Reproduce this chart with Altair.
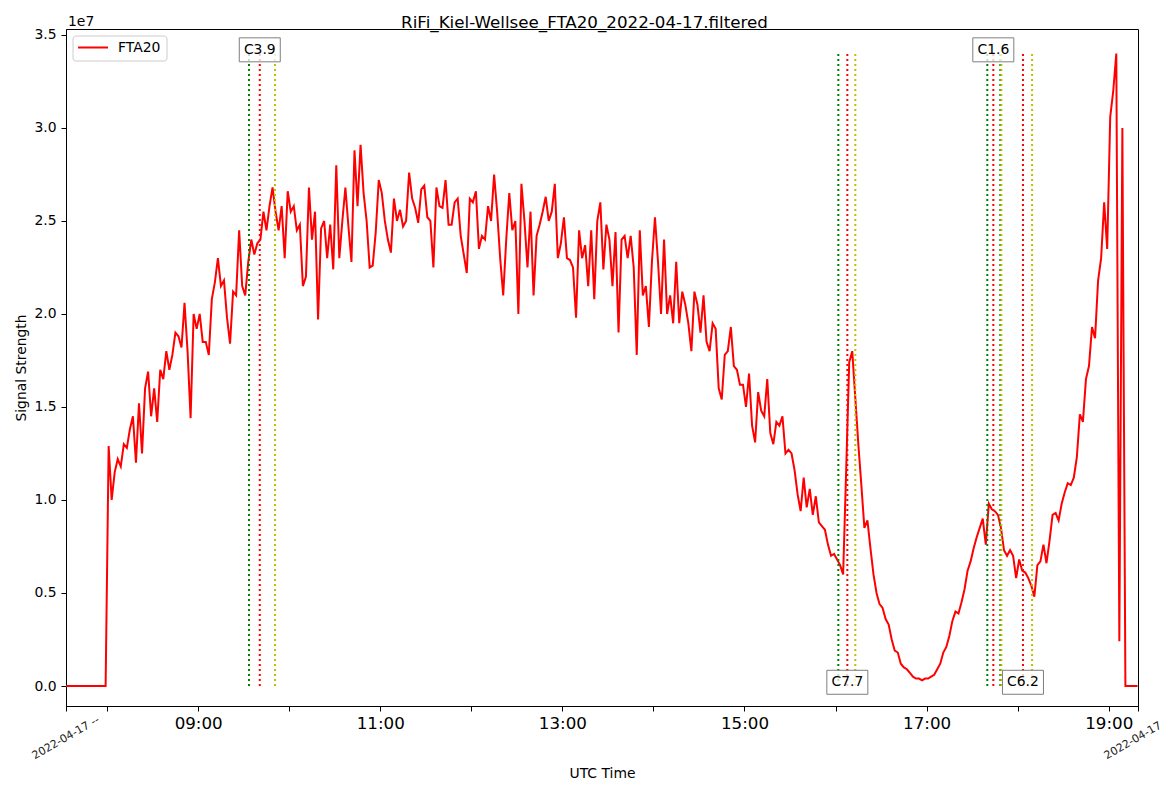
import altair as alt
import pandas as pd

FONT = "DejaVu Sans"
TITLE = "RiFi_Kiel-Wellsee_FTA20_2022-04-17.filtered"
DAY = "2022-04-17"
SERIES = "FTA20"
START = "07:33"      # first read-off sample
STEP = "2min"        # spacing of the read-off samples
X_MIN = "07:32:54"   # left edge of the time axis
X_MAX = "19:19:18"   # right edge of the time axis
EDGE_LABEL = "2022-04-17 --"
OFFSET_TEXT = "1e7"

# signal strength in units of 1e7, every 2 minutes from 07:33
signal_e7 = [
    0, 0, 0, 0, 0, 0, 0, 0, 0, 0, 0, 0, 0, 0,
    1.29, 1.00, 1.15, 1.22, 1.18, 1.30, 1.28, 1.38, 1.45, 1.20,
    1.52, 1.25, 1.60, 1.69, 1.45, 1.60, 1.42, 1.70, 1.65, 1.80,
    1.70, 1.78, 1.90, 1.88, 1.82, 2.06, 1.80, 1.44, 2.00, 1.92,
    2.00, 1.85, 1.85, 1.78, 2.08, 2.17, 2.30, 2.15, 2.18, 1.98,
    1.84, 2.12, 2.10, 2.45, 2.15, 2.10, 2.28, 2.40, 2.32, 2.38,
    2.40, 2.55, 2.45, 2.58, 2.68, 2.55, 2.45, 2.58, 2.30, 2.66,
    2.55, 2.58, 2.45, 2.48, 2.15, 2.20, 2.68, 2.40, 2.55, 1.97,
    2.46, 2.50, 2.30, 2.48, 2.24,
    2.80, 2.30, 2.50, 2.68, 2.47, 2.28, 2.88, 2.58, 2.91, 2.65,
    2.50, 2.25, 2.26, 2.44, 2.72, 2.65, 2.50, 2.40, 2.33, 2.62,
    2.50, 2.56, 2.47, 2.50, 2.76, 2.62, 2.57, 2.49, 2.67, 2.69,
    2.52, 2.50, 2.25, 2.68, 2.58, 2.57, 2.72, 2.48, 2.48, 2.60,
    2.62, 2.42, 2.32, 2.22, 2.62, 2.60, 2.66, 2.35, 2.42, 2.40,
    2.58, 2.50, 2.75, 2.55, 2.30, 2.10, 2.40, 2.65, 2.45, 2.50,
    2.00, 2.70, 2.50, 2.25, 2.55, 2.10, 2.42, 2.48, 2.55, 2.63,
    2.50, 2.55, 2.70, 2.30, 2.38, 2.52, 2.30, 2.29, 2.25, 1.98,
    2.45, 2.30, 2.37, 2.15,
    2.45, 2.08, 2.50, 2.60, 2.24, 2.48, 2.40, 2.15, 2.44, 1.90,
    2.40, 2.42, 2.30, 2.42, 2.25, 1.78, 2.45, 2.10, 2.15, 1.93,
    2.28, 2.52, 2.28, 2.00, 2.40, 2.00, 2.10, 1.95, 2.28, 1.95,
    2.12, 2.05, 1.95, 1.80, 2.12, 2.05, 1.90, 2.10, 1.85, 1.80,
    1.95, 1.92, 1.60, 1.54, 1.78, 1.80, 1.93, 1.72, 1.70, 1.62,
    1.62, 1.50, 1.68, 1.40, 1.31, 1.58, 1.48, 1.45, 1.65, 1.36,
    1.30, 1.42, 1.40, 1.45, 1.25, 1.27, 1.25, 1.16, 1.03, 0.94,
    1.12, 0.96, 1.06, 0.92, 1.02, 0.88, 0.86, 0.84, 0.76, 0.70,
    0.71, 0.68, 0.65, 0.60, 1.16, 1.74, 1.80, 1.55, 1.30, 1.08,
    0.85, 0.89, 0.74, 0.60, 0.50, 0.44, 0.42, 0.36, 0.33, 0.25,
    0.19, 0.18, 0.12, 0.10, 0.09, 0.07, 0.05, 0.04, 0.04, 0.03,
    0.04, 0.04, 0.05, 0.06, 0.09, 0.12, 0.18, 0.21, 0.27, 0.35,
    0.40, 0.39, 0.45, 0.52, 0.62, 0.67, 0.74, 0.80, 0.85, 0.90,
    0.76, 0.98, 0.95, 0.94, 0.92, 0.85, 0.73, 0.70, 0.73, 0.70,
    0.58, 0.68,
    0.62, 0.61, 0.58, 0.54, 0.48, 0.65, 0.67, 0.76, 0.66, 0.78,
    0.92, 0.93, 0.89, 0.98, 1.04, 1.09, 1.08, 1.12, 1.23, 1.46,
    1.42, 1.65, 1.72, 1.93, 1.87, 2.18, 2.30, 2.60, 2.35, 3.06,
    3.20, 3.40, 0.24, 3.00, 0, 0, 0, 0, 0,
]

# flares: start (green), peak (red), end (yellow) times and class labels
flare_class = ["C3.9", "C7.7", "C1.6", "C6.2"]
flare_start = ["09:33:29", "16:01:50", "17:40:00", "17:48:35"]
flare_peak = ["09:40:35", "16:07:46", "17:43:58", "18:03:30"]
flare_end = ["09:50:37", "16:13:02", "17:49:15", "18:09:30"]
label_y_e7 = [3.42, 0.02, 3.42, 0.02]

y_ticks_e7 = [0.0, 0.5, 1.0, 1.5, 2.0, 2.5, 3.0, 3.5]
Y_MIN_E7, Y_MAX_E7 = -0.1075, 3.532

line_colors = {"start": "#008000", "peak": "#ff0000", "end": "#bfbf00"}
SERIES_COLOR = "#ff0000"

# ---------------------------------------------------------------- data
times = pd.date_range(f"{DAY} {START}", periods=len(signal_e7), freq=STEP)
df = pd.DataFrame({"time": times,
                   "signal": [v * 1e7 for v in signal_e7],
                   "series": SERIES})
ymax = max(signal_e7) * 1e7

rows = []
for i in range(len(flare_class)):
    for kind, t in (("start", flare_start[i]), ("peak", flare_peak[i]), ("end", flare_end[i])):
        rows.append({"time": pd.Timestamp(f"{DAY} {t}"), "kind": kind,
                     "y0": 0.0, "y1": ymax})
rules_df = pd.DataFrame(rows)

ann_df = pd.DataFrame({
    "time": [pd.Timestamp(f"{DAY} {t}") for t in flare_peak],
    "y": [v * 1e7 for v in label_y_e7],
    "label": flare_class,
})

edge_df = pd.DataFrame({
    "time": [pd.Timestamp(f"{DAY} {X_MIN}"), pd.Timestamp(f"{DAY} {X_MAX}")],
    "label": [EDGE_LABEL, EDGE_LABEL],
})


def dt(hms):
    h, m, s = (int(p) for p in hms.split(":"))
    return alt.DateTime(year=2022, month=4, date=17, hours=h, minutes=m, seconds=s)


x_values = [dt(X_MIN)] + [dt(f"{h:02d}:00:00") for h in range(8, 20)] + [dt(X_MAX)]

x_scale = alt.Scale(domain=[dt(X_MIN), dt(X_MAX)], nice=False)
x_axis = alt.Axis(
    title="UTC Time", values=x_values,
    labelExpr="(hours(datum.value) % 2 == 1 && minutes(datum.value) == 0 && seconds(datum.value) == 0) ? timeFormat(datum.value, '%H:%M') : ''",
    labelFontSize=16.7, labelPadding=4, tickSize=5, labelFlush=False,
    labelOverlap=False, titleFontSize=13.9, titleFontWeight="normal",
    titlePadding=35, grid=False,
)
y_scale = alt.Scale(domain=[Y_MIN_E7 * 1e7, Y_MAX_E7 * 1e7], nice=False, zero=False)
y_axis = alt.Axis(
    title="Signal Strength", values=[v * 1e7 for v in y_ticks_e7],
    labelExpr="format(datum.value / 1e7, '.1f')",
    labelFontSize=13.9, labelPadding=5, tickSize=5, labelFlush=False,
    titleFontSize=13.9, titleFontWeight="normal", titlePadding=5, grid=False,
)

X = alt.X("time:T", scale=x_scale, axis=x_axis)

line = alt.Chart(df).mark_line(strokeWidth=2, clip=True, color=SERIES_COLOR).encode(
    x=X,
    y=alt.Y("signal:Q", scale=y_scale, axis=y_axis),
    detail="series:N",
)

rule_layers = []
for kind, col in line_colors.items():
    rule_layers.append(
        alt.Chart(rules_df[rules_df["kind"] == kind]).mark_rule(
            color=col, strokeWidth=2, strokeDash=[2, 3]).encode(
            x=X,
            y=alt.Y("y0:Q", scale=y_scale, axis=y_axis),
            y2="y1:Q",
        )
    )

box_path = "M-1,-0.585H1V0.585H-1Z"
boxes = alt.Chart(ann_df).mark_point(
    shape=box_path, size=1681, filled=True, fill="white", fillOpacity=0.75,
    stroke="#7f7f7f", strokeWidth=1, opacity=1,
).encode(x=X, y=alt.Y("y:Q", scale=y_scale, axis=y_axis))

box_text = alt.Chart(ann_df).mark_text(
    font=FONT, fontSize=13.9, color="black", align="center", baseline="middle",
).encode(x=X, y=alt.Y("y:Q", scale=y_scale, axis=y_axis), text="label:N")

edge_text = alt.Chart(edge_df).mark_text(
    font=FONT, fontSize=11, color="#222222", align="center", baseline="middle",
    angle=330, clip=False,
).encode(x=X, y=alt.value(709), text="label:N")

offset_text = alt.Chart(pd.DataFrame({"t": [OFFSET_TEXT]})).mark_text(
    font=FONT, fontSize=13.9, color="black", align="left", baseline="alphabetic",
).encode(x=alt.value(2), y=alt.value(-3), text="t:N")

title_text = alt.Chart(pd.DataFrame({"t": [TITLE]})).mark_text(
    font=FONT, fontSize=16.7, color="black", align="center", baseline="alphabetic",
).encode(x=alt.value(518.5), y=alt.value(-1), text="t:N")

# legend (matplotlib style box in the upper-left corner)
leg_df = pd.DataFrame({"series": [SERIES]})
leg_box = alt.Chart(leg_df).mark_rect(
    fill="white", fillOpacity=0.8, stroke="#cccccc", strokeWidth=1, cornerRadius=3,
).encode(x=alt.value(7), x2=alt.value(101), y=alt.value(7), y2=alt.value(32))
leg_line = alt.Chart(leg_df).mark_rule(color=SERIES_COLOR, strokeWidth=2).encode(
    x=alt.value(12), x2=alt.value(42), y=alt.value(18.5))
leg_text = alt.Chart(leg_df).mark_text(
    font=FONT, fontSize=13.9, color="black", align="left", baseline="middle",
).encode(x=alt.value(52), y=alt.value(18.5), text="series:N")

chart = alt.layer(
    line, *rule_layers, boxes, box_text, edge_text, offset_text, title_text,
    leg_box, leg_line, leg_text,
).properties(
    width=1072, height=677,
    autosize=alt.AutoSizeParams(type="none"),
    padding={"left": 58, "top": 21, "right": 23, "bottom": 78},
).configure_axis(
    labelFont=FONT, titleFont=FONT, domainColor="black", tickColor="black",
    labelColor="black", titleColor="black", domainWidth=1, tickWidth=1,
).configure_view(stroke="black", strokeWidth=1).configure_text(font=FONT)

chart.save("out.html", embed_options={"renderer": "svg", "actions": False})
